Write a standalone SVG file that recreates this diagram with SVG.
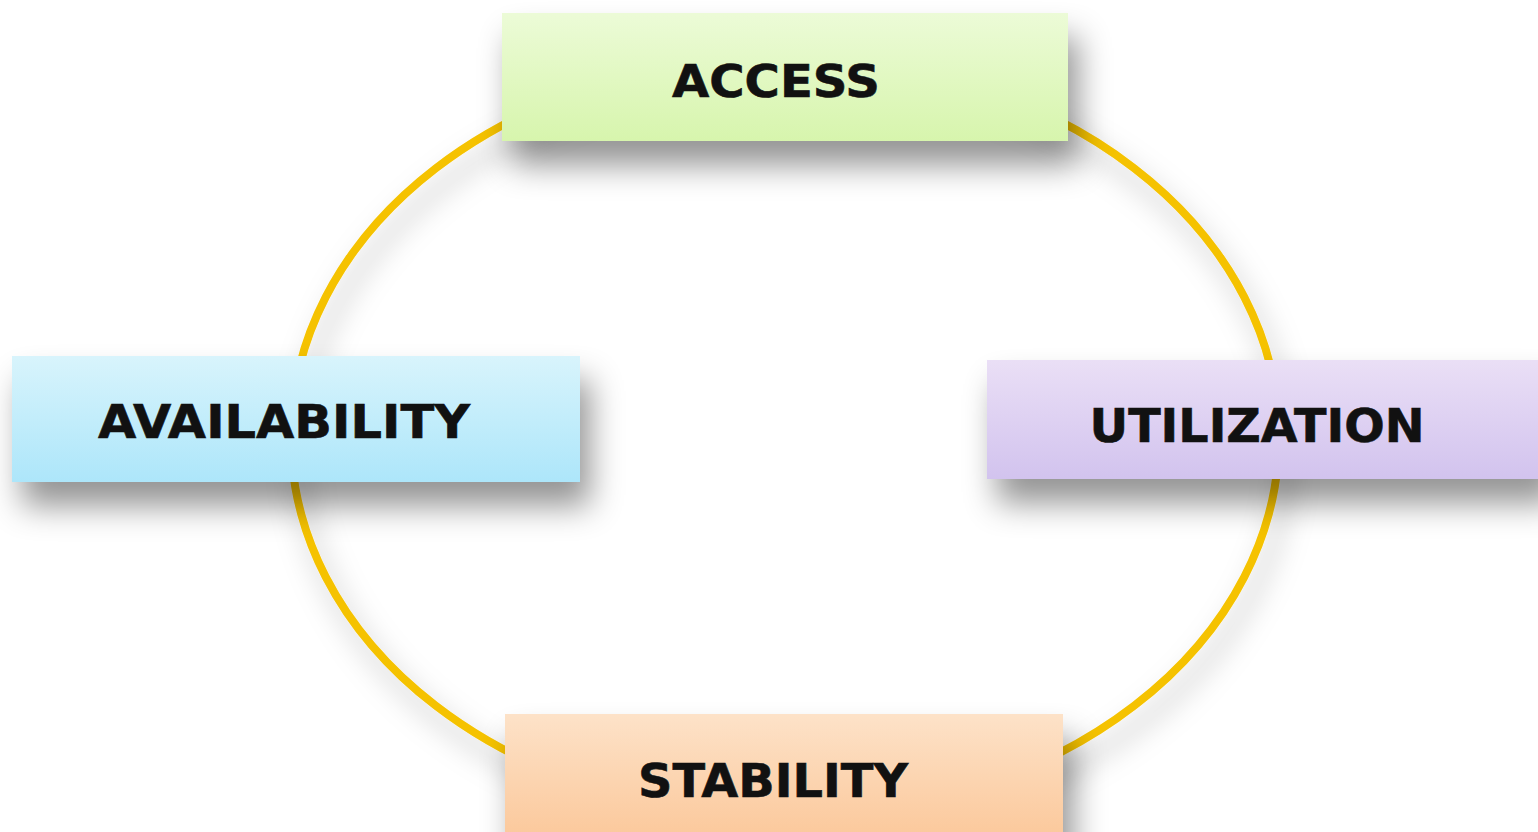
<svg xmlns="http://www.w3.org/2000/svg" width="1538" height="832" viewBox="0 0 1538 832">
  <defs>
    <linearGradient id="gGreen" x1="0" y1="0" x2="0" y2="1">
      <stop offset="0" stop-color="#ecfbd7"/>
      <stop offset="1" stop-color="#d7f5ad"/>
    </linearGradient>
    <linearGradient id="gBlue" x1="0" y1="0" x2="0" y2="1">
      <stop offset="0" stop-color="#d8f4fc"/>
      <stop offset="1" stop-color="#ade6fa"/>
    </linearGradient>
    <linearGradient id="gPurple" x1="0" y1="0" x2="0" y2="1">
      <stop offset="0" stop-color="#eadff6"/>
      <stop offset="1" stop-color="#d2c3ee"/>
    </linearGradient>
    <linearGradient id="gOrange" x1="0" y1="0" x2="0" y2="1">
      <stop offset="0" stop-color="#fde2c8"/>
      <stop offset="1" stop-color="#fbc799"/>
    </linearGradient>
    <filter id="boxShadow" x="-20%" y="-40%" width="150%" height="220%">
      <feDropShadow dx="10" dy="24" stdDeviation="16" flood-color="#000" flood-opacity="0.42"/>
    </filter>
    <filter id="ringShadow" x="-10%" y="-10%" width="130%" height="130%">
      <feDropShadow dx="8" dy="16" stdDeviation="14" flood-color="#000" flood-opacity="0.28"/>
    </filter>
  </defs>
  <style>
    .ring { fill: none; stroke: #f5c200; stroke-width: 8; }
    .box { filter: url(#boxShadow); }
    .label { font-family: "DejaVu Sans", Verdana, sans-serif; font-weight: bold; fill: #111; stroke: #111; stroke-width: 0.6; text-anchor: middle; }
  </style>
  <rect x="0" y="0" width="1538" height="832" fill="#ffffff"/>
  <g id="connectors">
    <ellipse class="ring" cx="785" cy="437" rx="494" ry="380" filter="url(#ringShadow)"/>
  </g>
  <g id="node-access">
    <rect class="box" x="502" y="13" width="566" height="128" fill="url(#gGreen)"/>
    <text class="label" x="776" y="97" font-size="45" textLength="208" lengthAdjust="spacingAndGlyphs">ACCESS</text>
  </g>
  <g id="node-availability">
    <rect class="box" x="12" y="356" width="568" height="126" fill="url(#gBlue)"/>
    <text class="label" x="284" y="438" font-size="46" textLength="372" lengthAdjust="spacingAndGlyphs">AVAILABILITY</text>
  </g>
  <g id="node-utilization">
    <rect class="box" x="987" y="360" width="560" height="119" fill="url(#gPurple)"/>
    <text class="label" x="1257" y="442" font-size="46" textLength="335" lengthAdjust="spacingAndGlyphs">UTILIZATION</text>
  </g>
  <g id="node-stability">
    <rect class="box" x="505" y="714" width="558" height="130" fill="url(#gOrange)"/>
    <text class="label" x="773" y="797" font-size="46" textLength="270" lengthAdjust="spacingAndGlyphs">STABILITY</text>
  </g>
</svg>
